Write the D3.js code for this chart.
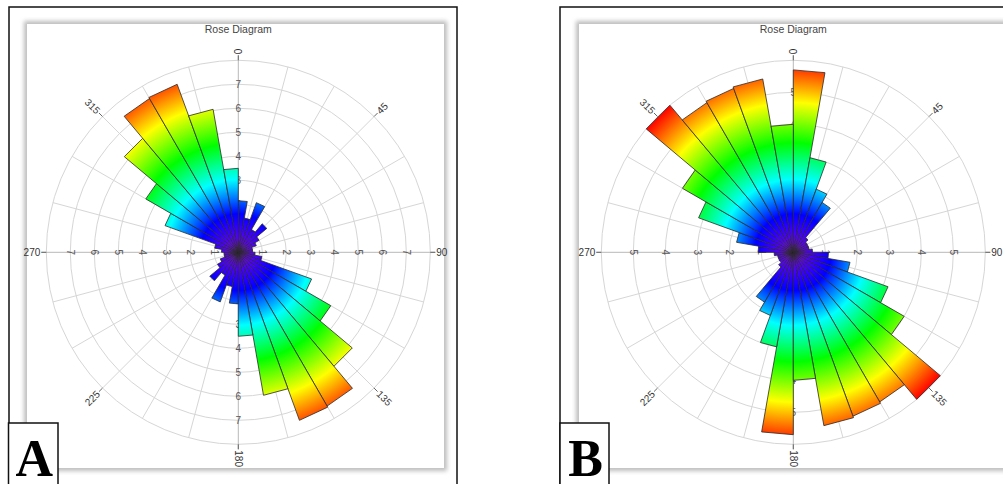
<!DOCTYPE html>
<html><head><meta charset="utf-8">
<script src="https://cdn.jsdelivr.net/npm/d3@7"></script>
<style>html,body{margin:0;padding:0;background:#fff;overflow:hidden}</style>
</head><body>
<svg id="c" width="1003" height="484"></svg>
<script>
// ---- data ----
const binStarts = d3.range(0, 180, 10);           // 18 bins of 10 degrees (axial data, mirrored at +180)
const valuesA = [2.15,1.45,2.2,1.1,1.55,1.0,0.8,0.6,0.6,0.7,1.0,3.25,4.45,6.2,7.4,7.45,6.05,3.5];
const valuesB = [5.7,3.0,2.1,1.8,0.6,0.5,0.5,0.5,0.6,1.1,1.8,3.15,4.0,6.0,5.4,5.45,5.5,4.0];
const ticksA = [1,2,3,4,5,6,7];
const ticksB = [1,2,3,4,5];
const compassLabels = [0,45,90,135,180,225,270,315];
const spokeAngles = d3.range(0, 360, 15);
const titleText = "Rose Diagram";

const svg = d3.select("#c");
const defs = svg.append("defs");
const blur = defs.append("filter").attr("id","sh").attr("x","-5%").attr("y","-5%").attr("width","110%").attr("height","110%");
blur.append("feGaussianBlur").attr("stdDeviation",2);

const rainbow = [[0,"#8a00ff"],[0.2,"#0000ff"],[0.38,"#00ffff"],[0.57,"#00ff00"],[0.78,"#ffff00"],[0.89,"#ff8000"],[1,"#ff0000"]];

const R = 192;
const panels = [
  {id:"A", values:valuesA, max:8, ticks:ticksA, cx:238.3, cy:252.3,
   frame:[9,7,448,500], inner:[27,24,417,444], box:[8.5,423,49.5,70]},
  {id:"B", values:valuesB, max:6, ticks:ticksB, cx:793.3, cy:252.3,
   frame:[560,7,460,500], inner:[579,24,440,444], box:[560,423,49,70]}
];

panels.forEach(p => {
  const g = svg.append("g");
  g.append("rect").attr("x",p.frame[0]).attr("y",p.frame[1]).attr("width",p.frame[2]).attr("height",p.frame[3])
    .attr("fill","#fff").attr("stroke","#111").attr("stroke-width",1.5);
  g.append("rect").attr("x",p.inner[0]-3).attr("y",p.inner[1]-3).attr("width",p.inner[2]+6).attr("height",p.inner[3]+6)
    .attr("fill","#bdbdbd").attr("filter","url(#sh)");
  g.append("rect").attr("x",p.inner[0]).attr("y",p.inner[1]).attr("width",p.inner[2]).attr("height",p.inner[3]).attr("fill","#fff");

  const r = d3.scaleLinear().domain([0,p.max]).range([0,R]);
  const ang = d3.scaleLinear().domain([0,360]).range([0,2*Math.PI]);
  const pt = (deg, v) => [p.cx + r(v)*Math.sin(ang(deg)), p.cy - r(v)*Math.cos(ang(deg))];

  g.append("text").attr("x",p.cx).attr("y",33).attr("text-anchor","middle")
    .attr("font-family","Liberation Sans, Arial, sans-serif").attr("font-size",10.5).attr("fill","#444").text(titleText);

  // grid
  const grid = g.append("g").attr("fill","none").attr("stroke","#d6d6d6").attr("stroke-width",1);
  d3.range(1,p.max+1).forEach(k => grid.append("circle").attr("cx",p.cx).attr("cy",p.cy).attr("r",r(k)));
  spokeAngles.filter(a => a % 90 !== 0).forEach(a => {
    const [x1,y1] = pt(a, 0), [x2,y2] = pt(a, p.max);
    grid.append("line").attr("x1",x1).attr("y1",y1).attr("x2",x2).attr("y2",y2);
  });
  const ax = g.append("g").attr("stroke","#b8b8b8").attr("stroke-width",1);
  ax.append("line").attr("x1",p.cx-R-5).attr("x2",p.cx+R+5).attr("y1",p.cy).attr("y2",p.cy);
  ax.append("line").attr("y1",p.cy-R-5).attr("y2",p.cy+R+5).attr("x1",p.cx).attr("x2",p.cx);

  // radial value labels on the axes (beneath the petals)
  const vl = g.append("g").attr("font-family","Liberation Sans, Arial, sans-serif").attr("font-size",10).attr("fill","#555")
    .attr("text-anchor","middle").attr("dominant-baseline","central");
  p.ticks.forEach(k => {
    vl.append("text").attr("x",p.cx).attr("y",p.cy - r(k)).text(k);
    vl.append("text").attr("x",p.cx).attr("y",p.cy + r(k)).text(k);
    vl.append("text").attr("transform",`translate(${p.cx + r(k)},${p.cy}) rotate(90)`).text(k);
    vl.append("text").attr("transform",`translate(${p.cx - r(k)},${p.cy}) rotate(90)`).text(k);
  });

  // gradient over the full plot radius
  const gid = "grad"+p.id;
  const grad = defs.append("radialGradient").attr("id",gid).attr("gradientUnits","userSpaceOnUse")
    .attr("cx",p.cx).attr("cy",p.cy).attr("r",R);
  rainbow.forEach(s => grad.append("stop").attr("offset",s[0]).attr("stop-color",s[1]));

  const petals = [];
  binStarts.forEach((b,i) => { petals.push({a:b, v:p.values[i]}); petals.push({a:b+180, v:p.values[i]}); });
  g.append("g").selectAll("path").data(petals).join("path")
    .attr("d", d => { const c=[p.cx,p.cy], p1=pt(d.a,d.v), p2=pt(d.a+10,d.v);
      return d3.line()([c,p1,p2]) + "Z"; })
    .attr("fill","url(#"+gid+")").attr("stroke","#2a2a2a").attr("stroke-width",0.8);

  // compass ticks and labels
  const cl = g.append("g").attr("font-family","Liberation Sans, Arial, sans-serif").attr("font-size",10).attr("fill","#333");
  compassLabels.forEach(a => {
    const [x1,y1] = pt(a, p.max), [x2,y2] = pt(a, p.max*(R+5)/R), [tx,ty] = pt(a, p.max*(R+6)/R);
    g.append("line").attr("x1",x1).attr("y1",y1).attr("x2",x2).attr("y2",y2).attr("stroke","#666");
    const right = a <= 180;
    cl.append("text").attr("transform",`translate(${tx},${ty}) rotate(${right ? a-90 : a-270})`)
      .attr("text-anchor", right ? "start" : "end").attr("dominant-baseline","central").text(a);
  });

  g.append("rect").attr("x",p.box[0]).attr("y",p.box[1]).attr("width",p.box[2]).attr("height",p.box[3])
    .attr("fill","#fff").attr("stroke","#111").attr("stroke-width",1.5);
  g.append("text").attr("x",p.box[0]+p.box[2]/2+1).attr("y",476).attr("text-anchor","middle")
    .attr("font-family","Liberation Serif, Times New Roman, serif").attr("font-weight","bold").attr("font-size",52)
    .attr("fill","#000").text(p.id);
});
</script>
</body></html>
